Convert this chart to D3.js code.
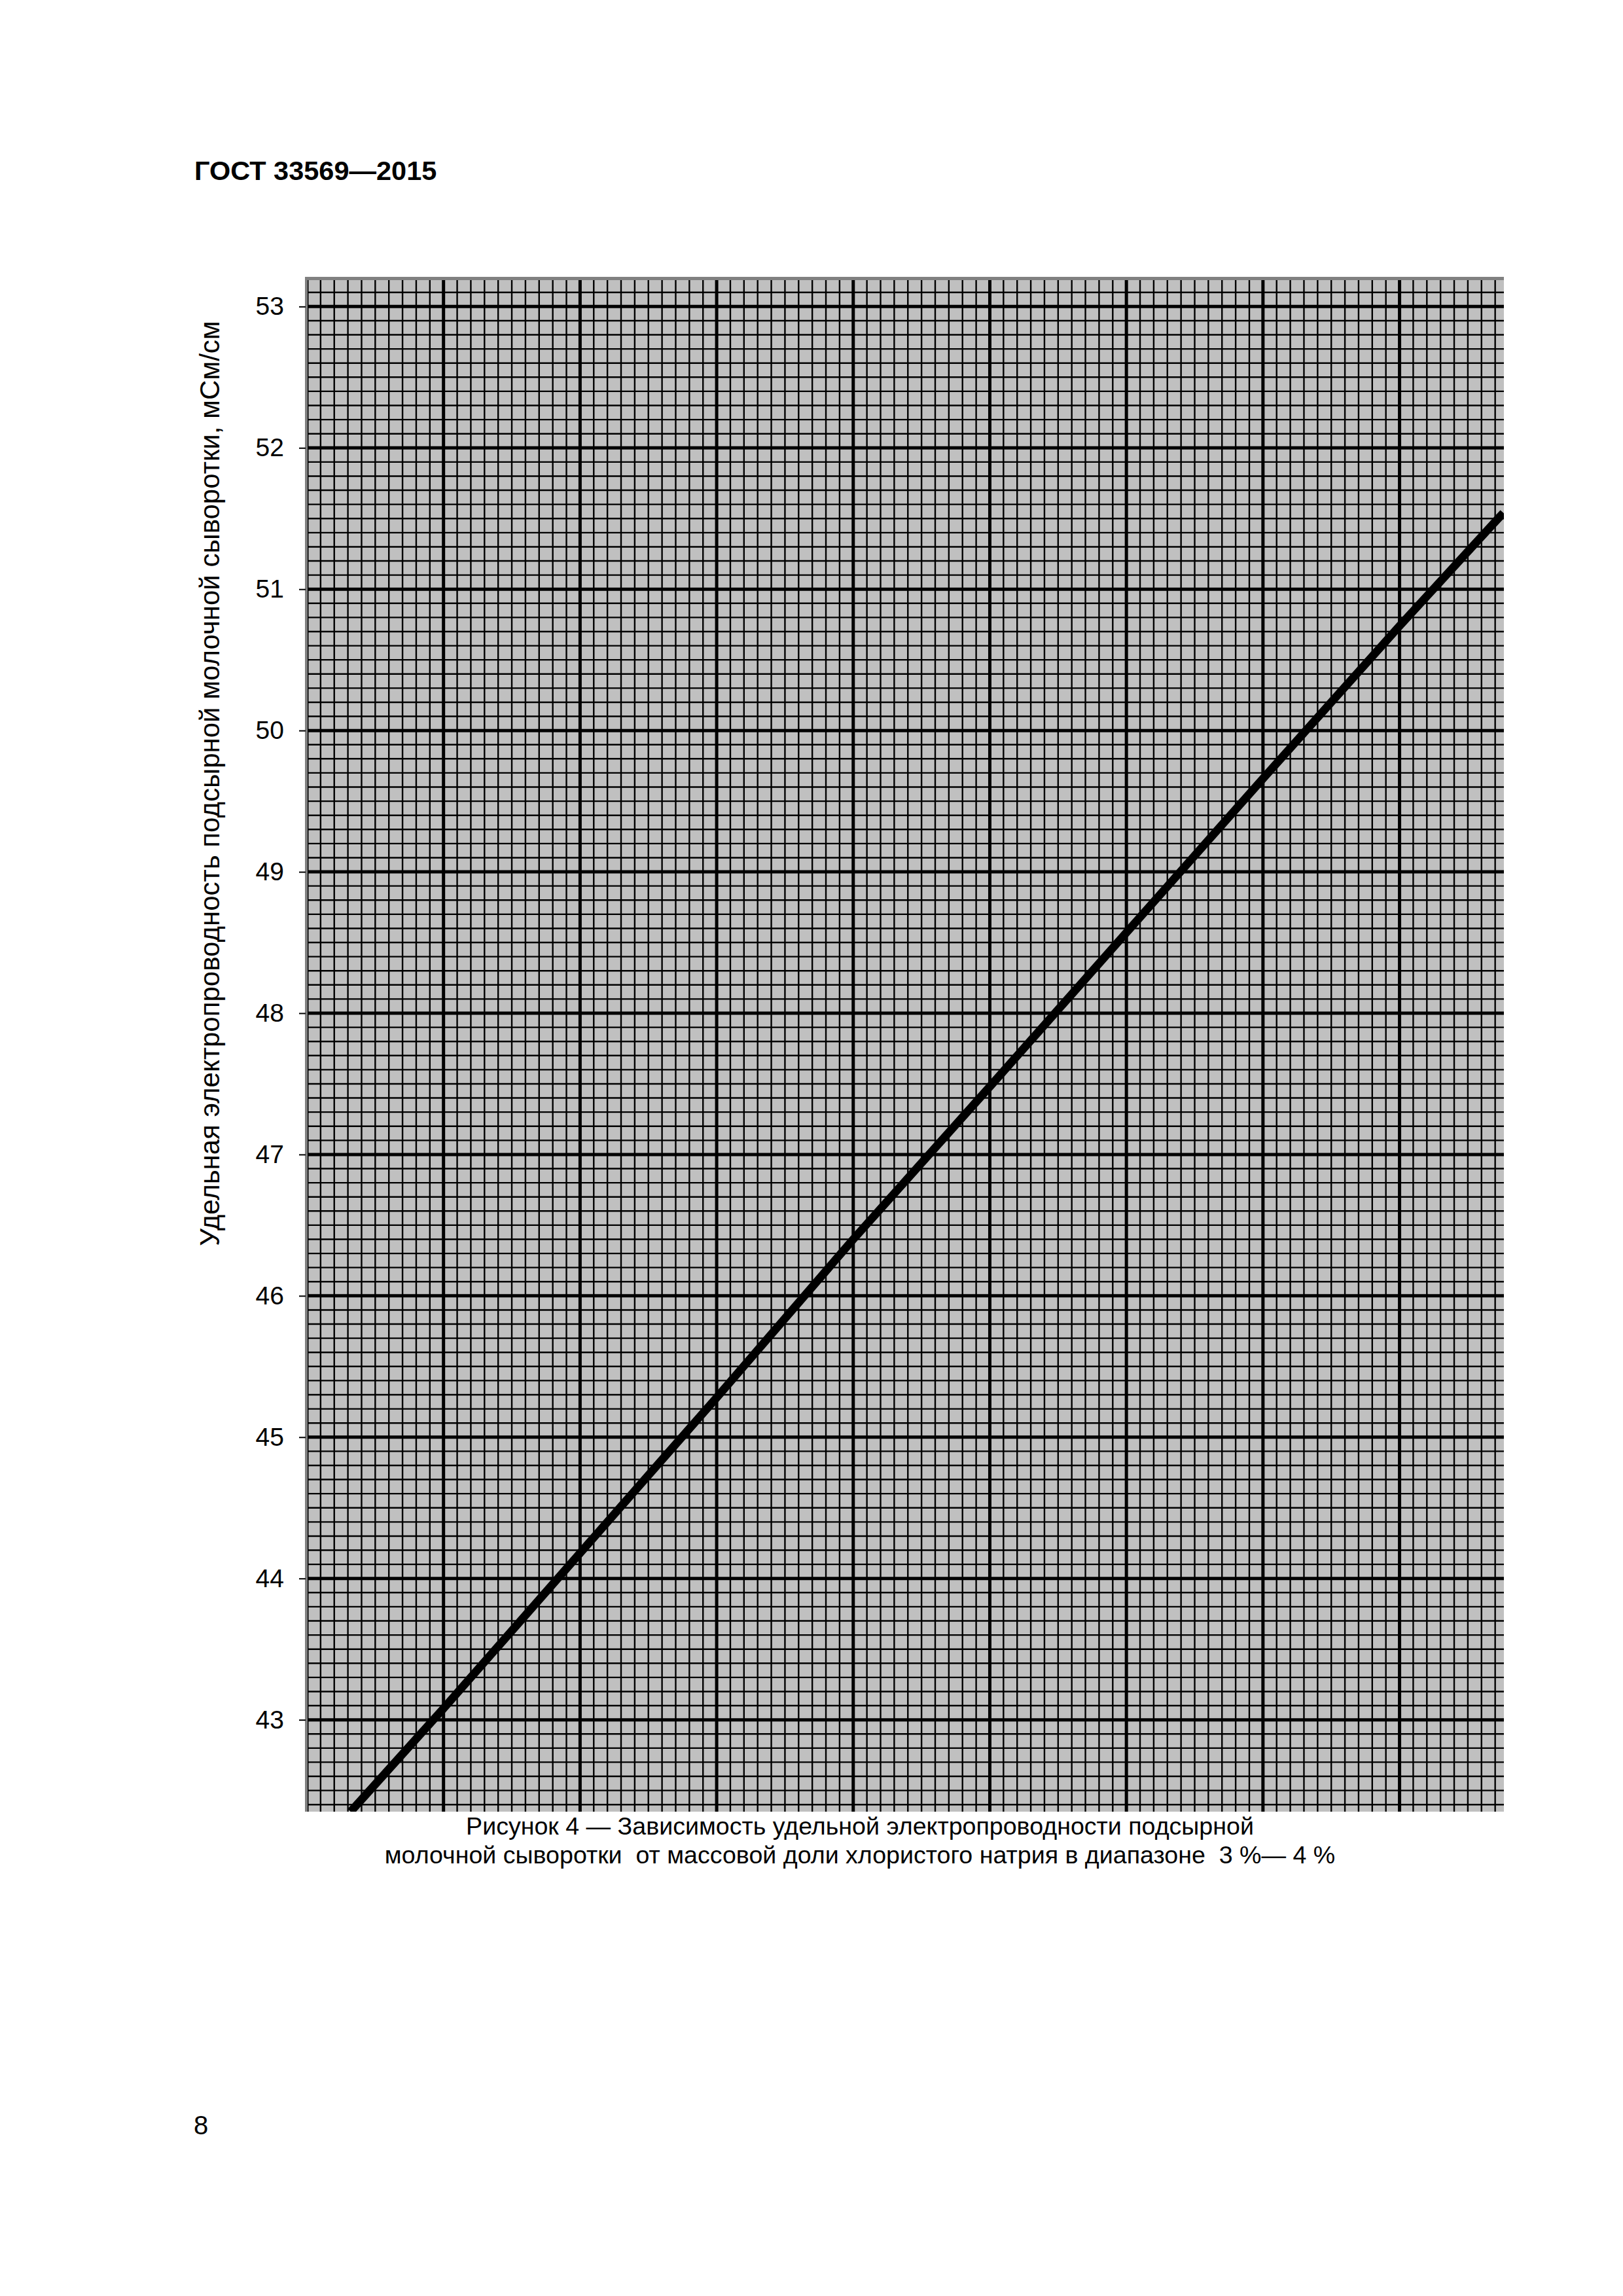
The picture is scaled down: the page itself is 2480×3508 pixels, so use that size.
<!DOCTYPE html>
<html>
<head>
<meta charset="utf-8">
<script src="https://cdn.jsdelivr.net/npm/d3@7/dist/d3.min.js"></script>
<style>
  html, body { margin: 0; padding: 0; background: #ffffff; }
  svg { display: block; }
</style>
</head>
<body>
<svg id="chart" width="2480" height="3508"></svg>
<script>
// ---------------- data ----------------
const headerText = "ГОСТ 33569—2015";
const pageNumber = "8";
const yAxisLabel = "Удельная электропроводность подсырной молочной сыворотки, мСм/см";
const captionLines = [
  "Рисунок 4 — Зависимость удельной электропроводности подсырной",
  "молочной сыворотки  от массовой доли хлористого натрия в диапазоне  3 %— 4 %"
];
const yTickValues = [43, 44, 45, 46, 47, 48, 49, 50, 51, 52, 53];
// x = mass fraction of NaCl, % (no x tick labels are printed on the original)
const xDomain = [3.0, 3.8764];
const yDomain = [42.35, 53.21];
const xMajorStep = 0.1, xMinorPerMajor = 10;
const yMajorStep = 1, yMinorPerMajor = 10;
// conductivity line, read at the heavy vertical grid lines (plus the two clipped ends)
const lineX = [3.032, 3.1, 3.2, 3.3, 3.4, 3.5, 3.6, 3.7, 3.8, 3.876];
const lineY = [42.35, 43.08, 44.18, 45.28, 46.40, 47.48, 48.57, 49.66, 50.74, 51.54];

// ---------------- layout ----------------
const FONT = "'Liberation Sans', Arial, Helvetica, sans-serif";
const plot = { left: 469, right: 2298, top: 423, bottom: 2768 };
const svg = d3.select("#chart");

const x = d3.scaleLinear().domain(xDomain).range([plot.left, plot.right]);
const y = d3.scaleLinear().domain(yDomain).range([plot.bottom, plot.top]);

// header
svg.append("text")
  .attr("x", 297).attr("y", 275)
  .attr("font-family", FONT).attr("font-weight", "bold").attr("font-size", 41.5)
  .attr("fill", "#000").text(headerText);

// plot background
svg.append("rect")
  .attr("x", plot.left - 3).attr("y", plot.top)
  .attr("width", plot.right - plot.left + 3).attr("height", plot.bottom - plot.top)
  .attr("fill", "#c0c0c0");

// grid values
function gridValues(domain, step, perMajor) {
  const minor = step / perMajor;
  const start = Math.ceil(domain[0] / minor - 1e-6);
  const end = Math.floor(domain[1] / minor + 1e-6);
  const out = [];
  for (let i = start; i <= end; i++) {
    out.push({ v: +(i * minor).toFixed(6), major: i % perMajor === 0 });
  }
  return out;
}
const xGrid = gridValues(xDomain, xMajorStep, xMinorPerMajor);
const yGrid = gridValues(yDomain, yMajorStep, yMinorPerMajor);

const grid = svg.append("g").attr("stroke", "#000");
// minor first
grid.selectAll("line.xmin").data(xGrid.filter(d => !d.major)).enter().append("line")
  .attr("x1", d => x(d.v)).attr("x2", d => x(d.v))
  .attr("y1", plot.top).attr("y2", plot.bottom).attr("stroke-width", 2.4);
grid.selectAll("line.ymin").data(yGrid.filter(d => !d.major)).enter().append("line")
  .attr("y1", d => y(d.v)).attr("y2", d => y(d.v))
  .attr("x1", plot.left - 3).attr("x2", plot.right).attr("stroke-width", 2.4);
// majors
grid.selectAll("line.xmaj").data(xGrid.filter(d => d.major)).enter().append("line")
  .attr("x1", d => x(d.v)).attr("x2", d => x(d.v))
  .attr("y1", plot.top).attr("y2", plot.bottom).attr("stroke-width", 5);
grid.selectAll("line.ymaj").data(yGrid.filter(d => d.major)).enter().append("line")
  .attr("y1", d => y(d.v)).attr("y2", d => y(d.v))
  .attr("x1", plot.left - 3).attr("x2", plot.right).attr("stroke-width", 5);

// clip for the data line
svg.append("defs").append("clipPath").attr("id", "plotClip")
  .append("rect")
  .attr("x", plot.left - 3).attr("y", plot.top)
  .attr("width", plot.right - plot.left + 3).attr("height", plot.bottom - plot.top);

const linePts = lineX.map((v, i) => [v, lineY[i]]);
svg.append("path")
  .datum(linePts)
  .attr("clip-path", "url(#plotClip)")
  .attr("fill", "none").attr("stroke", "#000").attr("stroke-width", 12.5)
  .attr("d", d3.line().x(d => x(d[0])).y(d => y(d[1])));

// 3D-style gray frame (top and left)
svg.append("rect").attr("x", plot.left - 3).attr("y", plot.top)
  .attr("width", plot.right - plot.left + 3).attr("height", 5).attr("fill", "#808080");
svg.append("rect").attr("x", plot.left - 3).attr("y", plot.top)
  .attr("width", 4).attr("height", plot.bottom - plot.top).attr("fill", "#808080");

// y axis (ticks + labels)
const yAxis = d3.axisLeft(y).tickValues(yTickValues).tickSize(10).tickPadding(23).tickFormat(d3.format("d"));
const gy = svg.append("g").attr("transform", `translate(${plot.left - 2},0)`).call(yAxis);
gy.select(".domain").remove();
gy.selectAll(".tick line").attr("stroke", "#000").attr("stroke-width", 2);
gy.selectAll(".tick text")
  .attr("font-family", FONT).attr("font-size", 39).attr("fill", "#000");

// y axis title
svg.append("text")
  .attr("transform", "translate(335,1197) rotate(-90)")
  .attr("text-anchor", "middle")
  .attr("font-family", FONT).attr("font-size", 42).attr("fill", "#000")
  .text(yAxisLabel);

// caption
svg.append("g").selectAll("text").data(captionLines).enter().append("text")
  .attr("x", 1314).attr("y", (d, i) => 2803 + i * 44)
  .attr("text-anchor", "middle")
  .attr("font-family", FONT).attr("font-size", 37.6).attr("fill", "#000")
  .attr("xml:space", "preserve").style("white-space", "pre")
  .text(d => d);

// page number
svg.append("text")
  .attr("x", 296).attr("y", 3261)
  .attr("font-family", FONT).attr("font-size", 40).attr("fill", "#000")
  .text(pageNumber);
</script>
</body>
</html>
